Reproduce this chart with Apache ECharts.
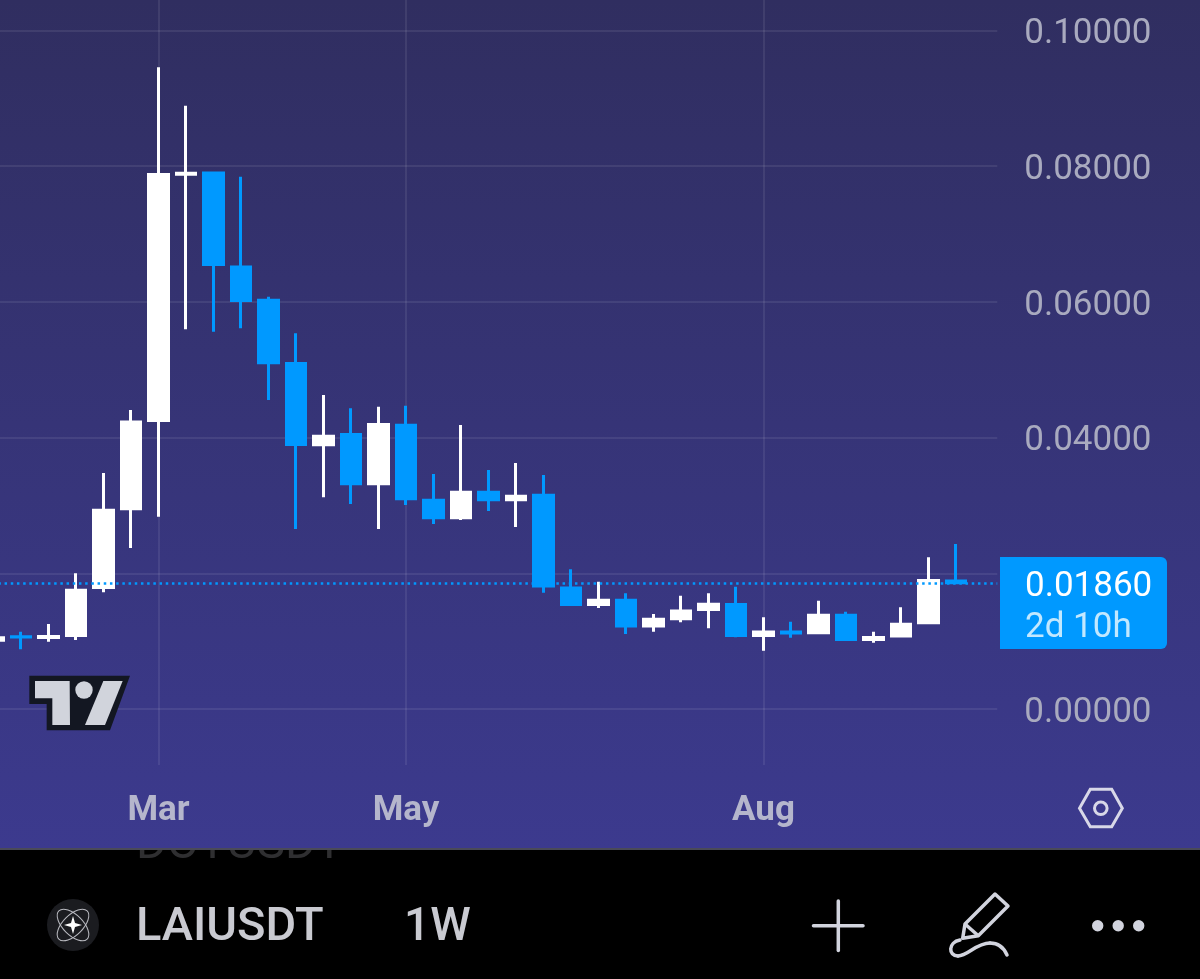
<!DOCTYPE html>
<html><head><meta charset="utf-8">
<style>html,body{margin:0;padding:0;background:#000;overflow:hidden}#c{width:1200px;height:979px}</style>
<script src="https://cdn.jsdelivr.net/npm/echarts@6/dist/echarts.min.js"></script>
</head><body><div id="c"></div>
<script>
const timeLabels = ['','','','','','','Mar','','','','','','','','','May','','','','','','','','','','','','','Aug','','','','','','','',''];
const opens  = [.01013,.01065,.01053,.01084,.01791,.02950,.04251,.07879,.07898,.06512,.06022,.05090,.03893,.04043,.03319,.04181,.03076,.02818,.03193,.03083,.03149,.01783,.01540,.01602,.01223,.01330,.01467,.01539,.01084,.01134,.01123,.01381,.01025,.01076,.01271,.01886];
const closes = [.01050,.01060,.01068,.01750,.02928,.04229,.07874,.07894,.06550,.06019,.05101,.03898,.04018,.03319,.04191,.03098,.02818,.03193,.03083,.03134,.01812,.01540,.01602,.01223,.01322,.01444,.01543,.01084,.01134,.01120,.01381,.01025,.01053,.01249,.01892,.01860];
const lows   = [.00994,.00880,.00992,.01017,.01719,.02372,.02833,.05594,.05559,.05609,.04552,.02652,.03119,.03020,.02652,.03006,.02726,.02785,.02917,.02681,.01713,.01522,.01488,.01105,.01139,.01277,.01189,.01056,.00859,.01050,.01105,.01006,.00977,.01056,.01252,.01849];
const highs  = [.01068,.01139,.01252,.01999,.03477,.04405,.09454,.08888,.07916,.07842,.06074,.05535,.04626,.04430,.04454,.04469,.03462,.04184,.03521,.03624,.03448,.02058,.01876,.01705,.01400,.01669,.01705,.01802,.01351,.01286,.01596,.01434,.01139,.01498,.02235,.02431];
const lastPrice = 0.0186;
const lastPriceText = '0.01860';
const countdownText = '2d 10h';
const symbolText = 'LAIUSDT';
const intervalText = '1W';
const ghostSymbolText = 'DOTUSDT';

const FONT = 'Roboto, sans-serif';
const BLUE = '#0099ff';
const ICON = '#d2d4de';
const candles = opens.map((o, i) => [o, closes[i], lows[i], highs[i]]);

const pts = (arr, dx, dy) => arr.map(p => [dx + p[0] / 3, dy + p[1] / 3]);

const chart = echarts.init(document.getElementById('c'), null, {renderer: 'canvas', width: 1200, height: 979});
chart.setOption({
  animation: false,
  backgroundColor: '#000000',
  grid: {left: -20.25, width: 1017.5, top: 0, height: 765, outerBoundsMode: 'none'},
  xAxis: {
    type: 'category', data: timeLabels, boundaryGap: true,
    axisLine: {show: false}, axisTick: {show: false},
    axisLabel: {interval: 0, margin: 29, color: '#b5b6cc', fontFamily: FONT, fontSize: 35, fontWeight: 700, hideOverlap: false},
    splitLine: {show: true, alignWithLabel: true, interval: (i, v) => v !== '', lineStyle: {color: 'rgba(255,255,255,0.08)', width: 2}}
  },
  yAxis: {
    type: 'value', position: 'right', scale: true, min: -0.00825, max: 0.10446, splitNumber: 5,
    axisLine: {show: false}, axisTick: {show: false},
    axisLabel: {
      margin: 27, align: 'left', showMinLabel: false, showMaxLabel: false,
      formatter: v => '{v|' + v.toFixed(5) + '}',
      rich: {v: {color: '#a9aabf', fontFamily: FONT, fontSize: 35, padding: [8, 0, 0, 0]}}
    },
    splitLine: {show: true, showMinLine: false, showMaxLine: false, lineStyle: {color: 'rgba(255,255,255,0.08)', width: 2}}
  },
  series: [{
    type: 'candlestick', data: candles, barWidth: 20,
    itemStyle: {color: '#ffffff', color0: BLUE, borderColor: '#ffffff', borderColor0: BLUE, borderWidth: 3},
    markLine: {
      silent: true, symbol: 'none', animation: false, precision: 5, label: {show: false},
      lineStyle: {color: BLUE, type: [2.5, 3.7], width: 2.5, opacity: 1},
      data: [{yAxis: lastPrice}]
    }
  }],
  graphic: [
    // bottom toolbar ghost text sits under the chart panel
    {type: 'text', z: -3, style: {x: 136, y: 870, text: ghostSymbolText, font: '47px ' + FONT, fill: '#2f2f31', textVerticalAlign: 'bottom'}},
    {type: 'rect', z: -2, shape: {x: 0, y: 0, width: 1200, height: 850}, style: {fill: '#4a4a58'}},
    {type: 'rect', z: -1, shape: {x: 0, y: 0, width: 1200, height: 848}, style: {fill: new echarts.graphic.LinearGradient(0, 0, 0, 1, [{offset: 0, color: '#302e60'}, {offset: 1, color: '#3c3a8e'}])}},
    // last price tag
    {type: 'rect', z: 10, shape: {x: 1000, y: 557, width: 167, height: 92, r: [0, 6, 6, 0]}, style: {fill: BLUE}},
    {type: 'text', z: 11, style: {x: 1025, y: 587, text: lastPriceText, font: '35px ' + FONT, fill: '#ffffff', textVerticalAlign: 'middle'}},
    {type: 'text', z: 11, style: {x: 1025, y: 628, text: countdownText, font: '35px ' + FONT, fill: '#c2e8ff', textVerticalAlign: 'middle'}},
    // watermark logo
    {type: 'polygon', z: 5, shape: {points: pts([[88,347],[390,347],[330,511],[140,511],[140,432],[88,432]], 0, 560)}, style: {fill: '#131722'}},
    {type: 'polygon', z: 6, shape: {points: pts([[105,363],[209,363],[210,495],[157,495],[157,415],[105,415]], 0, 560)}, style: {fill: '#d1d4dc'}},
    {type: 'circle', z: 6, shape: {cx: 84, cy: 690, r: 8.7}, style: {fill: '#d1d4dc'}},
    {type: 'polygon', z: 6, shape: {points: pts([[310,363],[368,363],[315,495],[255,495]], 0, 560)}, style: {fill: '#d1d4dc'}},
    // settings hexagon
    {type: 'polygon', z: 6, shape: {points: [[1079.5,808.3],[1090.3,789.3],[1111.7,789.3],[1122.3,808.3],[1111.7,826.7],[1090.3,826.7]]}, style: {fill: 'none', stroke: '#d8d8e8', lineWidth: 3}},
    {type: 'circle', z: 6, shape: {cx: 1100.8, cy: 808.3, r: 6.3}, style: {fill: 'none', stroke: '#d8d8e8', lineWidth: 3}},
    // toolbar
    {type: 'circle', z: 6, shape: {cx: 73, cy: 925, r: 26}, style: {fill: '#1b1c20'}},
    {type: 'ellipse', z: 7, x: 73, y: 925, rotation: Math.PI / 4, shape: {cx: 0, cy: 0, rx: 20, ry: 10}, style: {fill: 'none', stroke: '#b9bac0', lineWidth: 1}},
    {type: 'ellipse', z: 7, x: 73, y: 925, rotation: -Math.PI / 4, shape: {cx: 0, cy: 0, rx: 20, ry: 10}, style: {fill: 'none', stroke: '#b9bac0', lineWidth: 1}},
    {type: 'polygon', z: 8, shape: {points: [[73,916],[75,923],[82,925],[75,927],[73,934],[71,927],[64,925],[71,923]]}, style: {fill: '#ffffff'}},
    {type: 'text', z: 7, style: {x: 136, y: 928, text: symbolText, font: '500 47px ' + FONT, fill: '#c9cad1', textVerticalAlign: 'middle'}},
    {type: 'text', z: 7, style: {x: 404, y: 928, text: intervalText, font: '500 46px ' + FONT, fill: '#c9cad1', textVerticalAlign: 'middle'}},
    {type: 'line', z: 7, shape: {x1: 813.5, y1: 925.7, x2: 863, y2: 925.7}, style: {stroke: ICON, lineWidth: 3.5, lineCap: 'round'}},
    {type: 'line', z: 7, shape: {x1: 838.3, y1: 901, x2: 838.3, y2: 950.5}, style: {stroke: ICON, lineWidth: 3.5, lineCap: 'round'}},
    {type: 'polygon', z: 7, shape: {points: [[995,894],[1008,906],[978.3,935.7],[962.7,938.3],[965,924]]}, style: {fill: 'none', stroke: ICON, lineWidth: 3.5, lineJoin: 'round'}},
    {type: 'line', z: 7, shape: {x1: 965, y1: 924, x2: 978.3, y2: 935.7}, style: {stroke: ICON, lineWidth: 3.5}},
    {type: 'bezierCurve', z: 7, shape: {x1: 960, y1: 940, cpx1: 948, cpy1: 942, cpx2: 948, cpy2: 956, x2: 958, y2: 956}, style: {fill: 'none', stroke: ICON, lineWidth: 3.5, lineCap: 'round'}},
    {type: 'bezierCurve', z: 7, shape: {x1: 958, y1: 956, cpx1: 968, cpy1: 956, cpx2: 976, cpy2: 943, x2: 990, y2: 943}, style: {fill: 'none', stroke: ICON, lineWidth: 3.5, lineCap: 'round'}},
    {type: 'bezierCurve', z: 7, shape: {x1: 990, y1: 943, cpx1: 998, cpy1: 943, cpx2: 1004, cpy2: 948, x2: 1007, y2: 955}, style: {fill: 'none', stroke: ICON, lineWidth: 3.5, lineCap: 'round'}},
    {type: 'circle', z: 7, shape: {cx: 1097.7, cy: 925.7, r: 5.7}, style: {fill: ICON}},
    {type: 'circle', z: 7, shape: {cx: 1118.2, cy: 925.7, r: 5.7}, style: {fill: ICON}},
    {type: 'circle', z: 7, shape: {cx: 1138.7, cy: 925.7, r: 5.7}, style: {fill: ICON}}
  ]
});
</script></body></html>
